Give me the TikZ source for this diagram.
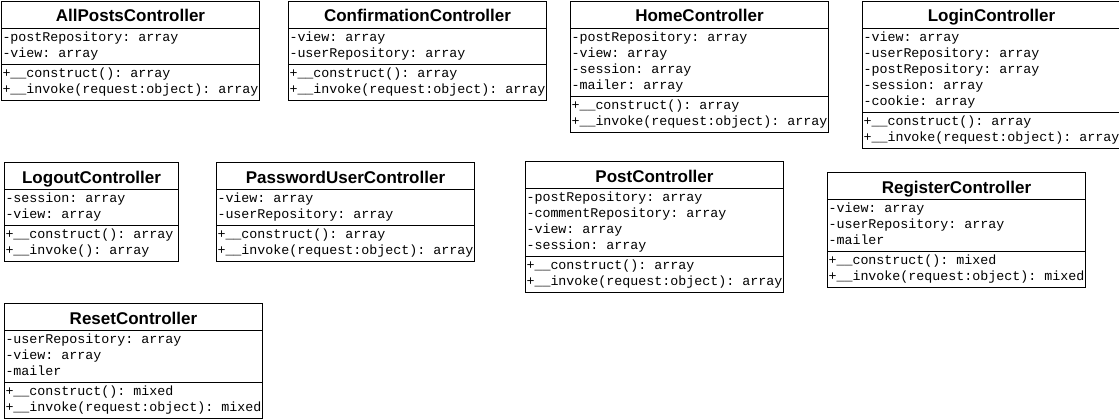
\documentclass[tikz,border=0pt]{standalone}
\usepackage{fontspec}
\setmainfont{Liberation Sans}
\setmonofont{Liberation Mono}
\usetikzlibrary{shapes.multipart}

\tikzset{
  umlclass/.style={draw, line width=1pt, rectangle split, rectangle split parts=3,
    rectangle split part align={center,left,left}, anchor=north west,
    inner xsep=1pt, inner ysep=1.5pt, font=\fontsize{13.33}{16}\selectfont\ttfamily}
}
\newcommand{\classname}[1]{\rule[-4.5pt]{0pt}{23pt}{\fontsize{17}{20}\selectfont\rmfamily\bfseries #1}}
\newcommand{\members}[1]{\begin{tabular}{@{}l@{}}#1\end{tabular}}

\begin{document}
\begin{tikzpicture}[x=1pt, y=-1pt]
\useasboundingbox (0,0) rectangle (1119,420);
% first row
\node[umlclass, minimum width=256pt] (allposts) at (1,1)
  {\classname{AllPostsController}
   \nodepart{second}\members{-postRepository: array\\-view: array}
   \nodepart{third}\members{+\_\_construct(): array\\+\_\_invoke(request:object): array}};
\node[umlclass, minimum width=258pt] (confirmation) at (288,1)
  {\classname{ConfirmationController}
   \nodepart{second}\members{-view: array\\-userRepository: array}
   \nodepart{third}\members{+\_\_construct(): array\\+\_\_invoke(request:object): array}};
\node[umlclass, minimum width=257pt] (home) at (570,1)
  {\classname{HomeController}
   \nodepart{second}\members{-postRepository: array\\-view: array\\-session: array\\-mailer: array}
   \nodepart{third}\members{+\_\_construct(): array\\+\_\_invoke(request:object): array}};
\node[umlclass, minimum width=256pt] (login) at (862,1)
  {\classname{LoginController}
   \nodepart{second}\members{-view: array\\-userRepository: array\\-postRepository: array\\-session: array\\-cookie: array}
   \nodepart{third}\members{+\_\_construct(): array\\+\_\_invoke(request:object): array}};
% second row
\node[umlclass, minimum width=174pt] (logout) at (4,162)
  {\classname{LogoutController}
   \nodepart{second}\members{-session: array\\-view: array}
   \nodepart{third}\members{+\_\_construct(): array\\+\_\_invoke(): array}};
\node[umlclass, minimum width=257pt] (passworduser) at (216,162)
  {\classname{PasswordUserController}
   \nodepart{second}\members{-view: array\\-userRepository: array}
   \nodepart{third}\members{+\_\_construct(): array\\+\_\_invoke(request:object): array}};
\node[umlclass, minimum width=256pt] (post) at (525,161)
  {\classname{PostController}
   \nodepart{second}\members{-postRepository: array\\-commentRepository: array\\-view: array\\-session: array}
   \nodepart{third}\members{+\_\_construct(): array\\+\_\_invoke(request:object): array}};
\node[umlclass, minimum width=257pt] (register) at (827,172)
  {\classname{RegisterController}
   \nodepart{second}\members{-view: array\\-userRepository: array\\-mailer}
   \nodepart{third}\members{+\_\_construct(): mixed\\+\_\_invoke(request:object): mixed}};
% third row
\node[umlclass, minimum width=256pt] (reset) at (4,303)
  {\classname{ResetController}
   \nodepart{second}\members{-userRepository: array\\-view: array\\-mailer}
   \nodepart{third}\members{+\_\_construct(): mixed\\+\_\_invoke(request:object): mixed}};
\end{tikzpicture}
\end{document}
